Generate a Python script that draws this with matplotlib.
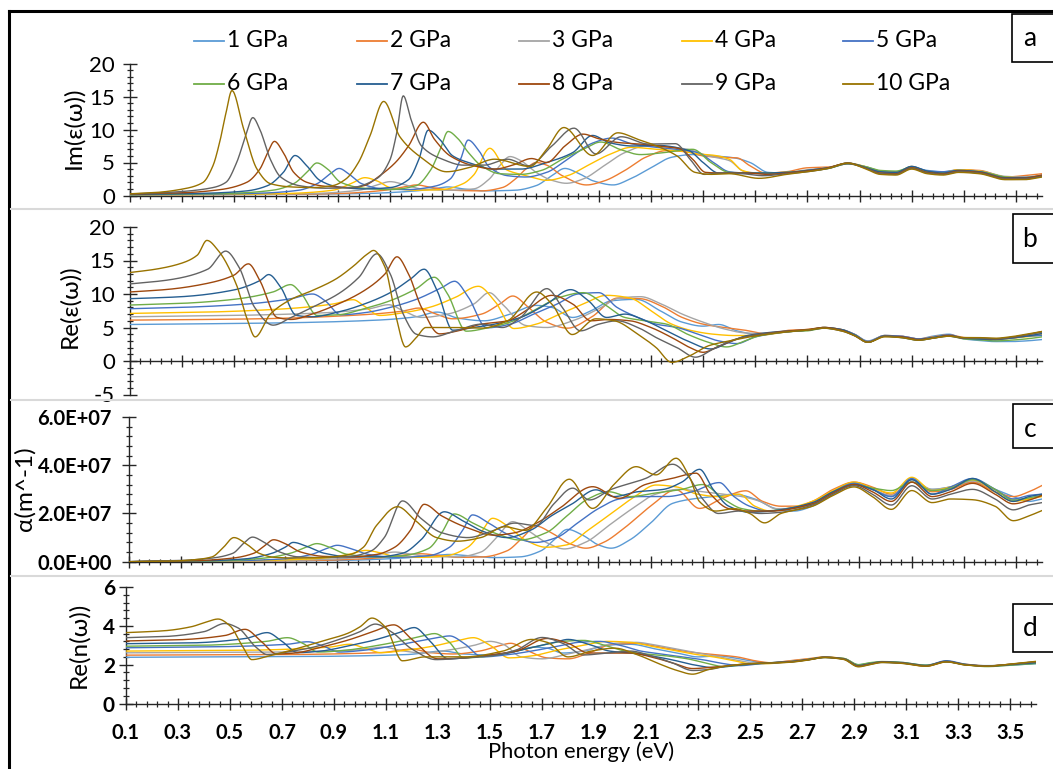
import numpy as np
import matplotlib
matplotlib.use("Agg")
import matplotlib.pyplot as plt
from matplotlib.lines import Line2D
from matplotlib.patches import Rectangle
from matplotlib.ticker import MultipleLocator, FixedLocator, FuncFormatter

plt.rcParams['font.family'] = ['Lato', 'DejaVu Sans']

# ---------------- series ----------------
pressures = ['1 GPa', '2 GPa', '3 GPa', '4 GPa', '5 GPa',
             '6 GPa', '7 GPa', '8 GPa', '9 GPa', '10 GPa']
colors = ['#5B9BD5', '#ED7D31', '#A5A5A5', '#FFC000', '#4472C4',
          '#70AD47', '#255E91', '#9E480E', '#636363', '#997300']

# ---------------- panel a : Im(eps) ----------------
im_E = [
    [0.10, 0.60, 1.00, 1.20, 1.28, 1.32, 1.38, 1.46, 1.58, 1.66, 1.72, 1.77, 1.82, 1.88, 1.955, 2.02, 2.10, 2.18, 2.26, 2.34, 2.42, 2.48, 2.55],
    [0.10, 0.60, 0.90, 1.08, 1.15, 1.20, 1.26, 1.34, 1.45, 1.53, 1.58, 1.62, 1.66, 1.70, 1.76, 1.853, 1.92, 2.00, 2.08, 2.16, 2.24, 2.30, 2.36, 2.43, 2.48, 2.54],
    [0.10, 0.50, 0.80, 0.98, 1.05, 1.10, 1.15, 1.22, 1.32, 1.42, 1.48, 1.52, 1.559, 1.60, 1.66, 1.72, 1.776, 1.84, 1.92, 2.00, 2.08, 2.16, 2.24, 2.32, 2.40, 2.46, 2.52],
    [0.10, 0.40, 0.70, 0.88, 0.95, 1.003, 1.05, 1.10, 1.20, 1.30, 1.38, 1.42, 1.482, 1.546, 1.60, 1.64, 1.70, 1.78, 1.86, 1.94, 2.025, 2.12, 2.20, 2.28, 2.34, 2.40, 2.45, 2.50],
    [0.10, 0.35, 0.60, 0.75, 0.82, 0.87, 0.904, 0.94, 0.99, 1.07, 1.17, 1.27, 1.33, 1.37, 1.399, 1.44, 1.48, 1.55, 1.62, 1.70, 1.78, 1.88, 1.95, 2.03, 2.12, 2.20, 2.28, 2.34, 2.40, 2.46, 2.54],
    [0.10, 0.30, 0.50, 0.65, 0.73, 0.78, 0.819, 0.86, 0.91, 1.00, 1.10, 1.20, 1.254, 1.29, 1.322, 1.36, 1.40, 1.45, 1.52, 1.60, 1.68, 1.76, 1.84, 1.908, 1.98, 2.06, 2.15, 2.26, 2.33, 2.40, 2.46, 2.54],
    [0.10, 0.40, 0.55, 0.63, 0.69, 0.735, 0.78, 0.83, 0.90, 1.00, 1.10, 1.17, 1.21, 1.246, 1.29, 1.34, 1.40, 1.50, 1.60, 1.70, 1.80, 1.876, 1.94, 2.03, 2.12, 2.245, 2.30, 2.36, 2.42, 2.52],
    [0.10, 0.30, 0.45, 0.55, 0.60, 0.63, 0.656, 0.69, 0.73, 0.78, 0.85, 0.95, 1.00, 1.06, 1.12, 1.17, 1.227, 1.27, 1.33, 1.42, 1.50, 1.57, 1.642, 1.70, 1.77, 1.84, 1.90, 1.98, 2.06, 2.15, 2.209, 2.26, 2.31, 2.38, 2.47, 2.55],
    [0.10, 0.30, 0.42, 0.47, 0.511, 0.545, 0.573, 0.60, 0.64, 0.68, 0.75, 0.85, 0.95, 1.05, 1.099, 1.125, 1.15, 1.18, 1.22, 1.30, 1.38, 1.46, 1.55, 1.63, 1.72, 1.805, 1.889, 1.986, 2.09, 2.194, 2.25, 2.304, 2.36, 2.45, 2.53],
    [0.10, 0.20, 0.30, 0.381, 0.42, 0.446, 0.47, 0.493, 0.537, 0.589, 0.64, 0.72, 0.80, 0.88, 0.93, 0.978, 1.023, 1.075, 1.137, 1.214, 1.316, 1.40, 1.50, 1.636, 1.70, 1.766, 1.876, 1.973, 2.05, 2.116, 2.20, 2.27, 2.33, 2.40, 2.515],
]
im_v = [
    [0.06, 0.15, 0.3, 0.7, 1.1, 1.3, 1.0, 0.7, 0.8, 1.5, 3.0, 4.1, 3.4, 2.2, 1.6, 2.5, 4.2, 5.8, 6.2, 6.0, 5.7, 5.0, 3.5],
    [0.07, 0.15, 0.3, 0.8, 1.3, 1.6, 1.2, 0.8, 0.7, 1.2, 2.5, 4.0, 5.0, 4.6, 3.0, 1.6, 2.2, 3.8, 5.8, 6.8, 6.6, 6.0, 5.8, 5.7, 4.5, 3.4],
    [0.08, 0.15, 0.3, 0.8, 1.6, 2.1, 1.7, 1.0, 0.8, 1.0, 2.5, 4.5, 5.9, 5.3, 3.5, 2.3, 1.85, 2.5, 4.5, 6.5, 7.5, 7.4, 7.0, 6.0, 5.3, 3.6, 3.4],
    [0.1, 0.15, 0.3, 0.8, 1.8, 2.7, 2.2, 1.2, 0.8, 0.9, 1.8, 3.1, 7.15, 3.9, 3.2, 2.8, 2.3, 3.0, 4.6, 6.2, 7.3, 7.0, 6.8, 6.3, 6.1, 5.5, 3.8, 3.4],
    [0.1, 0.18, 0.35, 0.8, 1.8, 3.3, 4.1, 3.3, 1.8, 1.0, 0.9, 1.4, 2.5, 5.5, 8.4, 6.8, 4.3, 3.0, 2.8, 3.5, 5.5, 8.0, 8.7, 7.8, 7.3, 7.0, 6.5, 5.0, 3.6, 3.4, 3.3],
    [0.12, 0.2, 0.35, 0.8, 1.8, 3.5, 4.93, 4.0, 2.0, 1.1, 0.9, 1.5, 3.8, 6.8, 9.7, 8.6, 6.5, 4.5, 3.3, 3.2, 3.8, 5.5, 7.0, 8.1, 7.0, 6.2, 6.5, 7.0, 5.0, 3.5, 3.4, 3.4],
    [0.15, 0.35, 0.7, 1.5, 3.5, 6.06, 4.5, 2.3, 1.3, 1.0, 1.2, 2.4, 5.5, 9.9, 8.5, 6.0, 5.0, 4.0, 4.0, 5.0, 6.5, 9.1, 8.0, 7.5, 7.6, 6.8, 5.0, 3.4, 3.4, 3.4],
    [0.2, 0.4, 0.9, 2.0, 4.0, 6.5, 8.2, 6.5, 3.5, 2.0, 1.4, 1.2, 1.5, 3.0, 5.0, 7.5, 11.1, 8.5, 6.0, 4.5, 4.0, 4.6, 5.6, 5.0, 7.5, 9.3, 8.6, 8.0, 7.8, 7.4, 7.1, 5.5, 3.5, 3.4, 3.4, 3.2],
    [0.22, 0.6, 1.2, 2.0, 5.0, 9.0, 11.8, 10.0, 5.5, 2.8, 1.5, 1.1, 1.2, 2.6, 5.4, 9.5, 15.1, 11.5, 7.5, 5.5, 4.6, 4.6, 5.5, 4.5, 7.5, 10.2, 6.3, 8.9, 7.8, 7.85, 5.5, 3.2, 3.4, 3.3, 3.0],
    [0.25, 0.45, 0.95, 1.95, 4.5, 8.1, 12.5, 15.9, 10.2, 4.0, 1.8, 1.3, 1.2, 1.5, 2.5, 5.0, 9.1, 14.25, 8.9, 5.9, 3.6, 4.2, 5.5, 4.4, 7.0, 10.3, 6.06, 9.5, 8.5, 7.6, 6.0, 3.5, 3.2, 3.3, 2.6],
]
im_tail_E = [2.62, 2.70, 2.78, 2.855, 2.92, 2.98, 3.04, 3.10, 3.16, 3.22, 3.28, 3.36, 3.46, 3.53, 3.60]
im_tail_v = [
    [3.4, 3.7, 4.1, 4.8, 4.4, 3.7, 3.6, 4.2, 3.8, 3.6, 3.9, 3.7, 2.8, 2.7, 2.9],
    [3.6, 4.2, 4.3, 4.9, 4.3, 3.6, 3.5, 4.2, 3.6, 3.5, 3.9, 3.8, 2.8, 3.0, 3.3],
    [3.5, 3.9, 4.2, 4.9, 4.4, 3.7, 3.5, 4.3, 3.7, 3.5, 3.8, 3.7, 2.9, 2.8, 3.1],
    [3.5, 3.8, 4.2, 4.9, 4.4, 3.6, 3.5, 4.4, 3.6, 3.5, 3.9, 3.7, 2.8, 2.7, 3.0],
    [3.4, 3.8, 4.2, 4.9, 4.3, 3.6, 3.4, 4.4, 3.7, 3.6, 3.8, 3.6, 2.7, 2.7, 2.9],
    [3.5, 3.7, 4.1, 4.8, 4.4, 3.8, 3.7, 4.3, 3.6, 3.4, 3.7, 3.6, 2.8, 2.6, 2.9],
    [3.5, 3.8, 4.2, 4.9, 4.3, 3.6, 3.5, 4.4, 3.7, 3.4, 3.8, 3.6, 2.7, 2.7, 3.0],
    [3.4, 3.7, 4.2, 4.9, 4.2, 3.4, 3.3, 4.2, 3.5, 3.3, 3.7, 3.5, 2.6, 2.6, 3.1],
    [3.3, 3.6, 4.1, 4.8, 4.2, 3.3, 3.2, 4.1, 3.4, 3.2, 3.6, 3.4, 2.5, 2.5, 2.9],
    [3.2, 3.6, 4.1, 4.9, 4.1, 3.2, 3.1, 4.0, 3.3, 3.1, 3.5, 3.3, 2.4, 2.4, 2.8],
]

# ---------------- panel b : Re(eps) ----------------
re_E = [
    [0.10, 0.70, 1.05, 1.20, 1.28, 1.36, 1.46, 1.56, 1.66, 1.72, 1.80, 1.87, 1.95, 2.044, 2.14, 2.22, 2.30, 2.36, 2.43, 2.50, 2.56],
    [0.10, 0.60, 0.95, 1.14, 1.21, 1.27, 1.34, 1.45, 1.52, 1.57, 1.63, 1.70, 1.78, 1.87, 1.973, 2.06, 2.14, 2.22, 2.30, 2.39, 2.46, 2.54],
    [0.10, 0.50, 0.85, 1.02, 1.094, 1.15, 1.22, 1.32, 1.42, 1.48, 1.53, 1.62, 1.70, 1.80, 1.90, 1.98, 2.06, 2.14, 2.22, 2.30, 2.38, 2.46, 2.54],
    [0.10, 0.40, 0.70, 0.88, 0.958, 1.00, 1.06, 1.15, 1.25, 1.35, 1.438, 1.50, 1.574, 1.66, 1.75, 1.84, 1.93, 2.02, 2.10, 2.18, 2.26, 2.34, 2.42, 2.50],
    [0.10, 0.30, 0.55, 0.72, 0.802, 0.85, 0.91, 1.00, 1.10, 1.20, 1.30, 1.347, 1.40, 1.47, 1.56, 1.65, 1.74, 1.82, 1.90, 1.97, 2.05, 2.12, 2.20, 2.28, 2.36, 2.43, 2.50],
    [0.10, 0.30, 0.50, 0.65, 0.718, 0.76, 0.82, 0.90, 1.00, 1.10, 1.20, 1.269, 1.32, 1.392, 1.48, 1.56, 1.65, 1.75, 1.84, 1.92, 2.00, 2.08, 2.16, 2.24, 2.32, 2.39, 2.46, 2.52],
    [0.10, 0.30, 0.50, 0.60, 0.634, 0.68, 0.74, 0.80, 0.90, 1.00, 1.10, 1.18, 1.23, 1.28, 1.34, 1.42, 1.50, 1.60, 1.70, 1.792, 1.86, 1.93, 2.00, 2.08, 2.16, 2.24, 2.33, 2.40, 2.47],
    [0.10, 0.25, 0.40, 0.50, 0.556, 0.60, 0.666, 0.72, 0.80, 0.90, 1.00, 1.08, 1.126, 1.17, 1.22, 1.289, 1.36, 1.45, 1.55, 1.62, 1.72, 1.80, 1.87, 1.94, 2.02, 2.10, 2.18, 2.25, 2.30, 2.36, 2.44, 2.50],
    [0.10, 0.25, 0.40, 0.469, 0.52, 0.58, 0.651, 0.72, 0.80, 0.90, 0.98, 1.049, 1.10, 1.15, 1.20, 1.263, 1.35, 1.45, 1.53, 1.60, 1.701, 1.76, 1.83, 1.90, 1.97, 2.05, 2.12, 2.20, 2.271, 2.34, 2.42, 2.50],
    [0.10, 0.20, 0.30, 0.36, 0.397, 0.44, 0.51, 0.55, 0.582, 0.64, 0.72, 0.80, 0.89, 0.96, 1.01, 1.036, 1.08, 1.12, 1.159, 1.20, 1.237, 1.35, 1.45, 1.55, 1.662, 1.72, 1.798, 1.889, 1.96, 2.05, 2.12, 2.18, 2.25, 2.323, 2.40, 2.479],
]
re_v = [
    [5.45, 5.7, 6.1, 6.6, 7.3, 6.4, 6.0, 7.0, 8.3, 8.0, 6.5, 7.5, 9.0, 9.2, 7.4, 5.8, 5.2, 5.45, 4.5, 4.0, 4.1],
    [6.1, 6.3, 6.8, 7.4, 7.9, 7.1, 6.3, 7.0, 8.5, 9.7, 8.0, 5.8, 4.9, 6.5, 9.4, 9.3, 8.2, 6.5, 5.5, 4.95, 4.6, 4.1],
    [6.6, 6.8, 7.2, 7.8, 8.4, 7.5, 6.5, 7.0, 8.5, 10.2, 8.5, 5.3, 5.0, 6.0, 7.8, 9.4, 9.6, 8.5, 7.0, 5.8, 4.8, 4.2, 4.1],
    [7.1, 7.3, 7.8, 8.5, 9.15, 8.2, 6.8, 7.2, 8.0, 9.5, 11.15, 9.0, 4.85, 5.5, 7.0, 8.5, 9.8, 9.4, 7.5, 5.5, 4.5, 4.0, 3.8, 3.8],
    [7.8, 8.0, 8.5, 9.3, 10.0, 9.0, 6.9, 7.2, 8.0, 9.2, 11.0, 11.9, 9.5, 4.95, 5.5, 7.0, 8.5, 10.0, 10.2, 8.0, 6.5, 5.5, 5.0, 4.0, 3.0, 2.6, 3.6],
    [8.35, 8.6, 9.2, 10.3, 11.4, 10.0, 6.8, 6.9, 7.8, 9.0, 10.8, 12.5, 10.0, 4.45, 5.0, 5.8, 7.5, 9.5, 10.2, 8.5, 6.5, 6.0, 5.5, 4.0, 2.8, 2.1, 3.0, 3.8],
    [9.3, 9.6, 10.6, 12.0, 12.9, 11.0, 6.8, 6.6, 7.3, 8.5, 10.2, 12.3, 13.7, 10.5, 4.6, 5.0, 5.5, 6.5, 8.5, 10.65, 9.0, 6.5, 7.0, 6.0, 4.5, 3.0, 1.8, 2.8, 3.8],
    [10.3, 10.7, 11.6, 12.8, 14.5, 12.0, 6.5, 6.2, 7.0, 8.5, 10.5, 13.0, 15.55, 13.0, 8.0, 4.05, 4.5, 5.5, 6.0, 7.5, 9.8, 8.5, 6.0, 6.2, 6.0, 5.0, 3.5, 2.0, 1.3, 2.2, 3.4, 3.9],
    [11.5, 12.1, 13.7, 16.4, 14.0, 8.0, 5.35, 6.5, 8.0, 10.0, 12.5, 16.0, 13.0, 7.0, 4.0, 3.6, 4.5, 5.5, 5.0, 6.5, 10.8, 8.0, 4.5, 5.5, 6.0, 5.0, 3.5, 2.0, 0.57, 1.8, 3.2, 3.9],
    [13.2, 13.7, 14.6, 15.8, 18.0, 16.5, 11.4, 6.4, 3.6, 7.0, 9.2, 10.5, 12.2, 14.2, 15.9, 16.5, 14.0, 7.0, 2.1, 3.5, 5.0, 5.0, 4.9, 6.0, 10.3, 8.5, 3.95, 6.3, 6.0, 4.0, 2.0, -0.2, 0.8, 2.3, 3.0, 3.6],
]
re_tail_E = [2.634, 2.70, 2.764, 2.83, 2.88, 2.932, 2.997, 3.06, 3.127, 3.18, 3.243, 3.30, 3.347, 3.42, 3.477, 3.54, 3.60]
re_tail_v = [
    [4.4, 4.6, 4.9, 4.7, 4.0, 3.0, 3.8, 3.7, 3.3, 3.7, 4.0, 3.3, 3.1, 2.9, 2.9, 3.0, 3.2],
    [4.6, 4.7, 5.0, 4.7, 4.0, 2.9, 3.8, 3.7, 3.3, 3.6, 3.9, 3.5, 3.4, 3.3, 3.4, 3.7, 4.1],
    [4.5, 4.6, 4.9, 4.6, 3.9, 2.9, 3.8, 3.6, 3.2, 3.5, 3.8, 3.4, 3.3, 3.3, 3.4, 3.7, 4.0],
    [4.4, 4.6, 5.0, 4.7, 3.9, 2.8, 3.7, 3.6, 3.2, 3.5, 3.8, 3.4, 3.3, 3.2, 3.4, 3.6, 3.9],
    [4.4, 4.6, 5.0, 4.7, 4.0, 2.9, 3.8, 3.7, 3.3, 3.5, 3.9, 3.4, 3.3, 3.3, 3.4, 3.7, 3.8],
    [4.4, 4.5, 4.9, 4.6, 3.9, 2.8, 3.7, 3.5, 3.1, 3.4, 3.7, 3.3, 3.2, 3.0, 3.1, 3.3, 3.6],
    [4.5, 4.6, 5.0, 4.7, 3.9, 2.8, 3.7, 3.6, 3.2, 3.5, 3.8, 3.4, 3.3, 3.2, 3.4, 3.7, 4.1],
    [4.5, 4.7, 5.0, 4.6, 3.8, 2.8, 3.7, 3.6, 3.2, 3.4, 3.8, 3.4, 3.4, 3.3, 3.5, 3.9, 4.4],
    [4.4, 4.6, 4.9, 4.5, 3.8, 2.8, 3.7, 3.5, 3.1, 3.4, 3.7, 3.4, 3.4, 3.3, 3.5, 3.9, 4.3],
    [4.4, 4.6, 4.9, 4.5, 3.8, 2.8, 3.6, 3.5, 3.1, 3.4, 3.7, 3.5, 3.5, 3.4, 3.6, 4.0, 4.4],
]

# ---------------- panel c : alpha (units of 1e7 m^-1) ----------------
al_E = [
    [0.10, 0.90, 1.15, 1.26, 1.33, 1.40, 1.50, 1.60, 1.68, 1.73, 1.782, 1.84, 1.90, 1.949, 2.02, 2.10, 2.185, 2.26, 2.34, 2.42, 2.50, 2.58, 2.65],
    [0.10, 0.80, 1.05, 1.16, 1.22, 1.28, 1.36, 1.46, 1.55, 1.61, 1.661, 1.72, 1.79, 1.853, 1.92, 2.00, 2.10, 2.198, 2.288, 2.37, 2.465, 2.53, 2.60, 2.66],
    [0.10, 0.70, 0.95, 1.06, 1.12, 1.18, 1.26, 1.36, 1.45, 1.51, 1.572, 1.63, 1.70, 1.77, 1.85, 1.94, 2.03, 2.12, 2.21, 2.30, 2.38, 2.45, 2.52, 2.58, 2.64],
    [0.10, 0.60, 0.85, 0.95, 1.01, 1.06, 1.12, 1.22, 1.32, 1.40, 1.45, 1.495, 1.55, 1.62, 1.70, 1.78, 1.86, 1.95, 2.04, 2.121, 2.20, 2.28, 2.36, 2.44, 2.50, 2.56, 2.62],
    [0.10, 0.50, 0.70, 0.80, 0.86, 0.90, 0.95, 1.02, 1.12, 1.25, 1.33, 1.38, 1.418, 1.48, 1.56, 1.66, 1.74, 1.82, 1.90, 1.98, 2.06, 2.16, 2.26, 2.364, 2.42, 2.48, 2.55, 2.62],
    [0.10, 0.45, 0.62, 0.72, 0.78, 0.822, 0.87, 0.94, 1.05, 1.15, 1.25, 1.30, 1.348, 1.42, 1.50, 1.60, 1.70, 1.78, 1.86, 1.94, 2.02, 2.12, 2.22, 2.30, 2.38, 2.45, 2.52, 2.60],
    [0.10, 0.40, 0.55, 0.65, 0.70, 0.731, 0.78, 0.85, 0.95, 1.05, 1.15, 1.22, 1.31, 1.38, 1.46, 1.55, 1.64, 1.72, 1.80, 1.891, 1.96, 2.05, 2.15, 2.22, 2.288, 2.34, 2.40, 2.48, 2.56],
    [0.10, 0.35, 0.50, 0.58, 0.62, 0.656, 0.70, 0.76, 0.85, 0.95, 1.05, 1.12, 1.18, 1.233, 1.30, 1.40, 1.50, 1.58, 1.664, 1.75, 1.878, 1.98, 2.08, 2.185, 2.275, 2.33, 2.40, 2.48, 2.56],
    [0.10, 0.30, 0.42, 0.50, 0.54, 0.575, 0.62, 0.68, 0.75, 0.85, 0.95, 1.03, 1.08, 1.15, 1.22, 1.30, 1.40, 1.50, 1.58, 1.66, 1.73, 1.802, 1.866, 1.95, 2.083, 2.185, 2.24, 2.30, 2.36, 2.44, 2.52, 2.60],
    [0.10, 0.25, 0.35, 0.42, 0.46, 0.504, 0.55, 0.60, 0.66, 0.75, 0.85, 0.95, 1.00, 1.05, 1.131, 1.20, 1.28, 1.36, 1.45, 1.54, 1.62, 1.70, 1.789, 1.878, 1.96, 2.045, 2.121, 2.198, 2.25, 2.288, 2.35, 2.42, 2.48, 2.537, 2.60],
]
al_v = [
    [0.0, 0.05, 0.15, 0.25, 0.3, 0.25, 0.17, 0.2, 0.45, 0.9, 1.34, 1.1, 0.7, 0.56, 0.9, 1.6, 2.42, 2.6, 2.7, 2.8, 2.6, 2.2, 2.1],
    [0.0, 0.05, 0.15, 0.28, 0.33, 0.27, 0.18, 0.2, 0.45, 1.0, 1.48, 1.2, 0.75, 0.56, 0.8, 1.4, 2.3, 2.98, 2.21, 2.6, 2.94, 2.5, 2.3, 2.3],
    [0.0, 0.05, 0.15, 0.3, 0.4, 0.32, 0.2, 0.2, 0.4, 1.0, 1.66, 1.3, 0.8, 0.53, 0.8, 1.5, 2.2, 2.8, 3.0, 2.9, 2.8, 2.7, 2.5, 2.2, 2.2],
    [0.0, 0.05, 0.15, 0.32, 0.47, 0.38, 0.22, 0.18, 0.25, 0.6, 1.2, 1.8, 1.5, 0.9, 0.6, 0.7, 1.3, 2.0, 2.7, 3.18, 3.1, 2.8, 2.7, 2.8, 2.3, 2.1, 2.2],
    [0.0, 0.04, 0.12, 0.3, 0.55, 0.68, 0.55, 0.3, 0.18, 0.25, 0.6, 1.3, 1.94, 1.6, 1.1, 0.8, 1.0, 1.6, 2.2, 2.6, 2.7, 2.7, 2.9, 3.28, 2.7, 2.3, 2.1, 2.2],
    [0.0, 0.04, 0.15, 0.35, 0.6, 0.75, 0.6, 0.3, 0.2, 0.25, 0.55, 1.2, 1.98, 1.6, 1.2, 0.9, 1.2, 1.9, 2.6, 2.9, 2.7, 2.85, 3.0, 3.2, 2.6, 2.2, 2.1, 2.15],
    [0.0, 0.04, 0.12, 0.35, 0.6, 0.8, 0.65, 0.35, 0.2, 0.2, 0.35, 0.9, 2.07, 1.7, 1.25, 1.0, 1.3, 1.9, 2.4, 2.98, 2.7, 2.9, 3.0, 3.3, 3.83, 3.0, 2.3, 2.05, 2.1],
    [0.0, 0.04, 0.15, 0.35, 0.65, 0.91, 0.75, 0.4, 0.22, 0.2, 0.3, 0.6, 1.3, 2.38, 1.9, 1.4, 1.1, 1.2, 1.6, 2.2, 3.11, 2.63, 3.2, 3.46, 3.67, 2.8, 2.2, 2.1, 2.1],
    [0.0, 0.05, 0.15, 0.35, 0.75, 1.02, 0.8, 0.4, 0.2, 0.17, 0.22, 0.45, 1.0, 2.52, 1.8, 1.2, 1.0, 1.3, 1.6, 1.5, 2.4, 3.05, 2.56, 3.0, 3.46, 4.04, 3.6, 2.6, 2.0, 2.1, 2.0, 2.05],
    [0.0, 0.02, 0.08, 0.2, 0.55, 1.0, 0.75, 0.35, 0.18, 0.15, 0.18, 0.3, 0.6, 1.5, 2.28, 1.7, 1.0, 0.85, 1.0, 1.45, 1.3, 2.2, 3.42, 2.21, 3.2, 3.94, 3.6, 4.29, 3.5, 2.49, 2.1, 2.2, 2.0, 1.61, 2.0],
]
al_tail_E = [2.72, 2.80, 2.88, 2.95, 3.023, 3.101, 3.179, 3.25, 3.334, 3.42, 3.49, 3.55, 3.60]
al_tail_v = [
    [2.3, 2.8, 3.2, 3.0, 2.7, 3.3, 3.0, 3.1, 3.3, 3.0, 2.7, 2.5, 2.6],
    [2.5, 3.0, 3.3, 3.1, 2.8, 3.3, 2.9, 3.0, 3.3, 2.9, 2.7, 2.9, 3.16],
    [2.4, 2.9, 3.25, 3.0, 2.75, 3.4, 3.0, 3.1, 3.35, 3.0, 2.6, 2.6, 2.75],
    [2.5, 2.95, 3.3, 3.05, 2.85, 3.5, 2.95, 3.1, 3.4, 2.9, 2.5, 2.6, 2.7],
    [2.4, 2.9, 3.25, 3.0, 2.7, 3.45, 2.8, 3.1, 3.45, 3.0, 2.6, 2.75, 2.8],
    [2.4, 2.9, 3.2, 3.05, 2.95, 3.3, 2.95, 3.05, 3.4, 3.0, 2.55, 2.65, 2.75],
    [2.45, 2.9, 3.2, 3.0, 2.6, 3.4, 2.8, 3.0, 3.45, 2.9, 2.5, 2.7, 2.8],
    [2.4, 2.85, 3.2, 2.9, 2.5, 3.3, 2.7, 2.9, 3.25, 2.8, 2.4, 2.55, 2.75],
    [2.35, 2.8, 3.15, 2.8, 2.35, 3.15, 2.6, 2.8, 3.0, 2.6, 2.15, 2.35, 2.45],
    [2.3, 2.75, 3.1, 2.7, 2.17, 2.95, 2.45, 2.6, 2.57, 2.3, 1.7, 1.9, 2.12],
]

# ---------------- panel d : Re(n) ----------------
n_E = [
    [0.10, 0.80, 1.18, 1.32, 1.40, 1.50, 1.60, 1.67, 1.72, 1.78, 1.86, 1.95, 2.04, 2.14, 2.22, 2.30, 2.38, 2.44, 2.50, 2.57],
    [0.10, 0.70, 1.08, 1.20, 1.27, 1.36, 1.46, 1.53, 1.58, 1.64, 1.72, 1.80, 1.88, 1.97, 2.06, 2.14, 2.22, 2.30, 2.38, 2.45, 2.52, 2.58],
    [0.10, 0.60, 0.98, 1.09, 1.16, 1.24, 1.34, 1.44, 1.50, 1.55, 1.62, 1.70, 1.80, 1.90, 1.98, 2.06, 2.14, 2.22, 2.30, 2.38, 2.46, 2.54],
    [0.10, 0.55, 0.88, 0.96, 1.02, 1.08, 1.18, 1.28, 1.38, 1.436, 1.50, 1.574, 1.66, 1.76, 1.86, 1.95, 2.04, 2.12, 2.20, 2.28, 2.36, 2.44, 2.50, 2.56],
    [0.10, 0.45, 0.72, 0.799, 0.86, 0.92, 1.02, 1.12, 1.22, 1.30, 1.345, 1.40, 1.47, 1.56, 1.66, 1.76, 1.84, 1.92, 2.00, 2.08, 2.16, 2.24, 2.32, 2.40, 2.46, 2.54],
    [0.10, 0.40, 0.64, 0.721, 0.78, 0.84, 0.95, 1.05, 1.15, 1.23, 1.287, 1.34, 1.40, 1.50, 1.60, 1.70, 1.78, 1.86, 1.94, 2.02, 2.10, 2.18, 2.26, 2.34, 2.40, 2.48, 2.55],
    [0.10, 0.35, 0.56, 0.643, 0.70, 0.76, 0.85, 0.95, 1.05, 1.15, 1.209, 1.27, 1.34, 1.44, 1.55, 1.65, 1.75, 1.80, 1.88, 1.96, 2.04, 2.12, 2.20, 2.28, 2.36, 2.44, 2.52],
    [0.10, 0.30, 0.48, 0.558, 0.62, 0.68, 0.75, 0.85, 0.95, 1.05, 1.13, 1.20, 1.30, 1.40, 1.50, 1.60, 1.72, 1.80, 1.88, 1.96, 2.04, 2.12, 2.20, 2.28, 2.34, 2.42, 2.50],
    [0.10, 0.25, 0.40, 0.48, 0.53, 0.60, 0.643, 0.72, 0.82, 0.92, 1.00, 1.059, 1.12, 1.20, 1.293, 1.40, 1.50, 1.60, 1.70, 1.78, 1.86, 1.95, 2.04, 2.12, 2.20, 2.28, 2.34, 2.42, 2.50],
    [0.10, 0.25, 0.35, 0.41, 0.454, 0.50, 0.55, 0.584, 0.65, 0.75, 0.85, 0.95, 1.00, 1.046, 1.10, 1.163, 1.25, 1.40, 1.55, 1.66, 1.72, 1.80, 1.89, 1.98, 2.06, 2.14, 2.22, 2.279, 2.34, 2.42, 2.50],
]
n_v = [
    [2.38, 2.42, 2.52, 2.7, 2.55, 2.5, 2.7, 2.9, 2.85, 2.6, 2.7, 3.0, 3.05, 2.8, 2.6, 2.4, 2.45, 2.35, 2.2, 2.1],
    [2.49, 2.52, 2.62, 2.8, 2.62, 2.55, 2.7, 2.95, 3.1, 2.75, 2.35, 2.3, 2.6, 3.05, 3.1, 2.95, 2.75, 2.6, 2.5, 2.4, 2.2, 2.1],
    [2.61, 2.64, 2.75, 2.9, 2.72, 2.6, 2.75, 3.0, 3.2, 3.05, 2.4, 2.3, 2.55, 2.85, 3.1, 3.15, 3.0, 2.8, 2.6, 2.4, 2.2, 2.05],
    [2.7, 2.74, 2.9, 3.05, 2.85, 2.62, 2.75, 2.95, 3.25, 3.39, 3.0, 2.35, 2.45, 2.75, 3.0, 3.2, 3.15, 2.95, 2.75, 2.55, 2.4, 2.2, 2.05, 2.05],
    [2.87, 2.92, 3.05, 3.18, 2.95, 2.65, 2.75, 2.95, 3.2, 3.4, 3.48, 3.1, 2.4, 2.5, 2.7, 2.95, 3.15, 3.2, 3.0, 2.7, 2.55, 2.4, 2.25, 2.05, 1.95, 2.05],
    [2.95, 3.0, 3.2, 3.39, 3.1, 2.65, 2.75, 2.95, 3.2, 3.45, 3.6, 3.2, 2.35, 2.45, 2.7, 3.0, 3.2, 3.25, 3.0, 2.7, 2.55, 2.45, 2.3, 2.05, 1.9, 2.0, 2.08],
    [3.08, 3.12, 3.35, 3.65, 3.2, 2.62, 2.7, 2.95, 3.25, 3.65, 3.91, 3.2, 2.3, 2.4, 2.55, 2.85, 3.15, 3.3, 3.05, 2.7, 2.6, 2.45, 2.25, 2.0, 1.85, 1.95, 2.05],
    [3.22, 3.28, 3.5, 3.82, 3.2, 2.55, 2.6, 2.9, 3.25, 3.7, 4.05, 3.3, 2.3, 2.35, 2.5, 2.7, 3.35, 3.1, 2.6, 2.6, 2.6, 2.4, 2.1, 1.8, 1.85, 1.95, 2.05],
    [3.39, 3.45, 3.7, 4.12, 3.9, 2.9, 2.52, 2.65, 2.9, 3.3, 3.7, 4.09, 3.7, 2.8, 2.26, 2.35, 2.45, 2.75, 3.4, 3.1, 2.5, 2.6, 2.7, 2.45, 2.1, 1.7, 1.75, 1.95, 2.05],
    [3.65, 3.75, 3.95, 4.2, 4.35, 4.0, 2.9, 2.26, 2.45, 2.8, 3.2, 3.6, 3.95, 4.4, 3.9, 2.2, 2.4, 2.4, 2.7, 3.3, 3.15, 2.4, 2.7, 2.85, 2.55, 2.1, 1.7, 1.51, 1.75, 1.95, 2.05],
]
n_tail_E = [2.65, 2.72, 2.787, 2.86, 2.917, 2.96, 3.008, 3.08, 3.177, 3.255, 3.33, 3.411, 3.50, 3.60]
n_tail_v = [
    [2.18, 2.28, 2.38, 2.32, 2.0, 2.08, 2.12, 2.08, 1.98, 2.15, 2.0, 1.95, 1.98, 2.05],
    [2.2, 2.3, 2.4, 2.3, 1.98, 2.06, 2.14, 2.1, 1.92, 2.14, 2.02, 1.94, 2.0, 2.12],
    [2.16, 2.26, 2.38, 2.31, 1.97, 2.07, 2.15, 2.11, 1.95, 2.16, 2.01, 1.94, 2.0, 2.1],
    [2.15, 2.27, 2.39, 2.32, 1.98, 2.05, 2.15, 2.1, 1.95, 2.17, 2.0, 1.93, 2.02, 2.12],
    [2.15, 2.25, 2.38, 2.31, 1.97, 2.06, 2.14, 2.12, 1.96, 2.2, 2.02, 1.92, 1.98, 2.08],
    [2.14, 2.25, 2.37, 2.32, 2.0, 2.1, 2.16, 2.12, 1.97, 2.15, 2.0, 1.9, 1.97, 2.06],
    [2.15, 2.26, 2.38, 2.3, 1.95, 2.05, 2.14, 2.1, 1.95, 2.18, 2.0, 1.93, 2.0, 2.1],
    [2.14, 2.25, 2.38, 2.29, 1.93, 2.03, 2.13, 2.09, 1.94, 2.16, 1.99, 1.93, 2.02, 2.15],
    [2.13, 2.24, 2.37, 2.28, 1.91, 2.01, 2.12, 2.08, 1.93, 2.15, 1.99, 1.93, 2.02, 2.15],
    [2.12, 2.23, 2.37, 2.27, 1.89, 2.0, 2.11, 2.07, 1.92, 2.14, 1.98, 1.92, 2.03, 2.17],
]

x_tick_labels = ['0.1', '0.3', '0.5', '0.7', '0.9', '1.1', '1.3', '1.5', '1.7',
                 '1.9', '2.1', '2.3', '2.5', '2.7', '2.9', '3.1', '3.3', '3.5']


# ---------------- helpers ----------------
def pchip(x, y, xs):
    """Monotone cubic (smoothed-line style) drawing through the read points."""
    x = np.asarray(x, float)
    y = np.asarray(y, float)
    h = np.diff(x)
    d = np.diff(y) / h
    m = np.zeros_like(y)
    for k in range(1, len(x) - 1):
        if d[k - 1] * d[k] > 0:
            w1 = 2 * h[k] + h[k - 1]
            w2 = h[k] + 2 * h[k - 1]
            m[k] = (w1 + w2) / (w1 / d[k - 1] + w2 / d[k])
    m[0] = d[0]
    m[-1] = d[-1]
    i = np.clip(np.searchsorted(x, xs, side='right') - 1, 0, len(x) - 2)
    t = (xs - x[i]) / h[i]
    t2, t3 = t * t, t * t * t
    return ((2 * t3 - 3 * t2 + 1) * y[i] + (t3 - 2 * t2 + t) * h[i] * m[i]
            + (-2 * t3 + 3 * t2) * y[i + 1] + (t3 - t2) * h[i] * m[i + 1])


def draw_series(ax, E_heads, v_heads, tail_E, tail_vs, scale=1.0):
    for k in range(10):
        x = np.array(list(E_heads[k]) + list(tail_E), float)
        y = np.array(list(v_heads[k]) + list(tail_vs[k]), float)
        xs = np.linspace(x[0], x[-1], 1400)
        ax.plot(xs, pchip(x, y, xs) * scale, color=colors[k], lw=1.0,
                solid_joinstyle='round', zorder=2 + k)


W, H = 1053.0, 769.0
AXC = '#262626'
fig = plt.figure(figsize=(10.53, 7.69), dpi=100)
fig.patch.set_facecolor('white')


def ax_at(x0, x1, ytop, ybot):
    return fig.add_axes([x0 / W, 1 - ybot / H, (x1 - x0) / W, (ybot - ytop) / H])


def style(ax, ylim, ymaj, ymin, ypad, yfs, zero_spine=False, xlabels=False):
    ax.set_xlim(0.1, 3.6)
    ax.set_ylim(*ylim)
    ax.patch.set_alpha(0)
    for s in ['top', 'right']:
        ax.spines[s].set_visible(False)
    for s in ['left', 'bottom']:
        ax.spines[s].set_color(AXC)
        ax.spines[s].set_linewidth(1.0)
        ax.spines[s].set_zorder(1)
    if zero_spine:
        ax.spines['bottom'].set_position(('data', 0))
    ax.xaxis.set_major_locator(FixedLocator([float(t) for t in x_tick_labels]))
    ax.xaxis.set_minor_locator(FixedLocator(np.round(np.arange(0.1, 3.59, 0.04), 2)))
    ax.yaxis.set_major_locator(MultipleLocator(ymaj))
    ax.yaxis.set_minor_locator(MultipleLocator(ymin))
    ax.tick_params(axis='y', which='major', direction='inout', length=10, width=1.0,
                   color=AXC, labelsize=yfs, pad=ypad, labelcolor='black')
    ax.tick_params(axis='y', which='minor', direction='inout', length=5, width=0.9, color=AXC)
    ax.tick_params(axis='x', which='major', direction='inout', length=8, width=1.0,
                   color=AXC, labelsize=14.5, pad=10, labelcolor='black')
    ax.tick_params(axis='x', which='minor', direction='inout', length=4.5, width=0.9, color=AXC)
    if xlabels:
        ax.xaxis.set_major_formatter(FuncFormatter(lambda v, p: f"{v:.1f}"))
    else:
        ax.tick_params(axis='x', labelbottom=False)


ax_a = ax_at(129.5, 1042, 63.5, 195.5)
ax_b = ax_at(129.5, 1042, 227, 394.5)
ax_c = ax_at(128.5, 1042, 417, 561.7)
ax_d = ax_at(126, 1036, 587, 703.5)

style(ax_a, (0, 20), 5, 1, 5.5, 16)
style(ax_b, (-5, 20), 5, 1, 5.5, 16, zero_spine=True)
style(ax_c, (0, 6e7), 2e7, 0.4e7, 7, 14.5)
style(ax_d, (0, 6), 2, 0.4, 3, 15, xlabels=True)

ax_a.yaxis.set_major_formatter(FuncFormatter(lambda v, p: f"{v:.0f}"))
ax_b.yaxis.set_major_formatter(FuncFormatter(lambda v, p: f"{v:.0f}"))
ax_c.yaxis.set_major_formatter(FuncFormatter(lambda v, p: f"{v / 1e7:.1f}E+07" if v > 0 else "0.0E+00"))
ax_d.yaxis.set_major_formatter(FuncFormatter(lambda v, p: f"{v:.0f}"))

draw_series(ax_a, im_E, im_v, im_tail_E, im_tail_v)
draw_series(ax_b, re_E, re_v, re_tail_E, re_tail_v)
draw_series(ax_c, al_E, al_v, al_tail_E, al_tail_v, scale=1e7)
draw_series(ax_d, n_E, n_v, n_tail_E, n_tail_v)

# axis titles
YL_FS = 17.5
fig.text(74 / W, 1 - 128 / H, 'Im(ε(ω))', rotation=90, ha='center', va='center', fontsize=YL_FS)
fig.text(70 / W, 1 - 306.5 / H, 'Re(ε(ω))', rotation=90, ha='center', va='center', fontsize=YL_FS)
fig.text(25.3 / W, 1 - 489 / H, 'α(m^-1)', rotation=90, ha='center', va='center', fontsize=YL_FS)
fig.text(79 / W, 1 - 645 / H, 'Re(n(ω))', rotation=90, ha='center', va='center', fontsize=YL_FS)
fig.text(581 / W, 1 - 752 / H, 'Photon energy (eV)', ha='center', va='center', fontsize=15.8)

# legend (two rows of five)
cols_x = [194, 357, 519, 682, 843]
rows_y = [40.6, 83.8]
for k in range(10):
    r, c = divmod(k, 5)
    x0, y0 = cols_x[c], rows_y[r]
    fig.add_artist(Line2D([x0 / W, (x0 + 30) / W], [1 - y0 / H, 1 - y0 / H],
                          transform=fig.transFigure, color=colors[k], lw=1.3))
    fig.text((x0 + 33) / W, 1 - y0 / H, pressures[k], ha='left', va='center', fontsize=16.5)

# panel letter boxes
for letter, (bx, bt, bb, base) in zip('abcd', [(1012, 13.5, 62, 45.6),
                                                (1012.6, 214.2, 262.9, 247),
                                                (1012.6, 404.1, 448.1, 437),
                                                (1012.6, 603.8, 652.2, 636)]):
    fig.add_artist(Rectangle((bx / W, 1 - bb / H), (1070 - bx) / W, (bb - bt) / H,
                             transform=fig.transFigure, facecolor='white',
                             edgecolor='black', lw=1.2, clip_on=False))
    fig.text(1030 / W, 1 - base / H, letter, ha='center', va='baseline', fontsize=19)

# frame and separators
fig.add_artist(Line2D([9 / W, 9 / W], [0, 1 - 10.5 / H], transform=fig.transFigure,
                      color='black', lw=2.2))
fig.add_artist(Line2D([9 / W, 1], [1 - 10.5 / H, 1 - 10.5 / H], transform=fig.transFigure,
                      color='black', lw=2.2))
for ys in [209, 400, 576]:
    fig.add_artist(Line2D([11 / W, 1], [1 - ys / H, 1 - ys / H], transform=fig.transFigure,
                          color='#d9d9d9', lw=1.5))

fig.canvas.draw()
for ax in (ax_c, ax_d):
    for lab in ax.get_yticklabels() + ax.get_xticklabels():
        lab.set_fontweight('bold')

fig.savefig('out.png', dpi=100)
